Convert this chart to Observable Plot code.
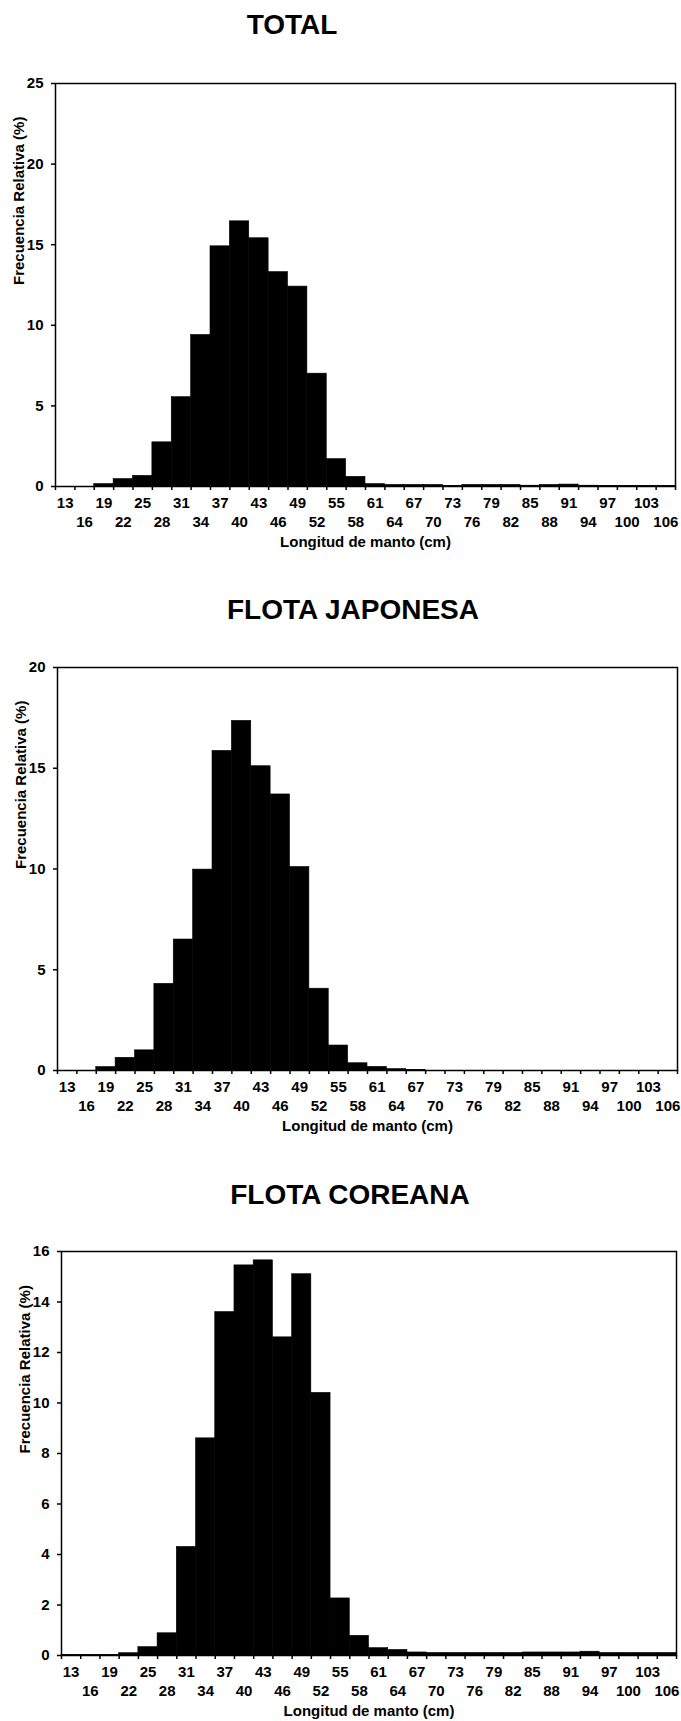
<!DOCTYPE html>
<html><head><meta charset="utf-8">
<script src="https://cdn.jsdelivr.net/npm/d3@7"></script>
<script src="https://cdn.jsdelivr.net/npm/@observablehq/plot@0.6"></script>
<style>
body{margin:0;background:#fff;}
#root{position:relative;width:681px;height:1721px;overflow:hidden;font-family:"Liberation Sans",Arial,sans-serif;background:#fff;}
.title{position:absolute;font-size:28px;font-weight:bold;line-height:28px;white-space:nowrap;transform:translateX(-50%);color:#000;}
.chart{position:absolute;left:0;}
</style></head><body><div id="root"></div>
<script>
// Length classes (cm), bin width 3
const lengths = [13,16,19,22,25,28,31,34,37,40,43,46,49,52,55,58,61,64,67,70,73,76,79,82,85,88,91,94,97,100,103,106];
const binWidth = 3;

// Relative frequency (%) per class
const totalPct    = [0,0,0.15,0.46,0.66,2.74,5.54,9.4,14.9,16.45,15.4,13.3,12.4,7.0,1.7,0.6,0.15,0.1,0.1,0.1,0.03,0.1,0.1,0.1,0.05,0.1,0.12,0.05,0.03,0.03,0.03,0.03];
const japonesaPct = [0,0,0.17,0.63,1.0,4.3,6.5,9.97,15.86,17.35,15.1,13.7,10.1,4.06,1.24,0.36,0.18,0.07,0.02,0,0,0,0,0,0,0,0,0,0,0,0,0];
const coreanaPct  = [0.02,0.02,0.02,0.09,0.33,0.88,4.3,8.6,13.6,15.45,15.65,12.6,15.1,10.4,2.26,0.78,0.29,0.22,0.12,0.1,0.1,0.1,0.1,0.1,0.12,0.12,0.12,0.15,0.1,0.1,0.1,0.1];

// Tick label rows
const row1Labels = lengths.filter((d, i) => i % 2 === 0);
const row2Labels = lengths.filter((d, i) => i % 2 === 1);

const yTicksTotal = [0,5,10,15,20,25];
const yTicksJaponesa = [0,5,10,15,20];
const yTicksCoreana = [0,2,4,6,8,10,12,14,16];

const titles = ["TOTAL", "FLOTA JAPONESA", "FLOTA COREANA"];
const xLabel = "Longitud de manto (cm)";
const yLabel = "Frecuencia Relativa (%)";

const FONT = "'Liberation Sans', Arial, sans-serif";

function chart({values, yMax, yTicks, height, ml, mr, mt, mb}) {
  const data = lengths.map((len, i) => ({len, pct: values[i]}));
  const bounds = lengths.map(l => l - binWidth / 2).concat([lengths[lengths.length - 1] + binWidth / 2]);
  const txt = {fontSize: 15, fontWeight: "bold", fill: "black"};
  return Plot.plot({
    width: 681, height,
    marginLeft: ml, marginRight: mr, marginTop: mt, marginBottom: mb,
    x: {type: "linear", domain: [bounds[0], bounds[bounds.length - 1]]},
    y: {domain: [0, yMax]},
    style: {fontFamily: FONT, background: "white", color: "black", overflow: "visible"},
    marks: [
      Plot.rectY(data.filter(d => d.pct > 0), {x1: d => d.len - binWidth / 2, x2: d => d.len + binWidth / 2, y1: 0, y2: "pct", fill: "black", stroke: "black", strokeWidth: 0.6}),
      Plot.frame({stroke: "black", strokeWidth: 1.5}),
      Plot.axisX({ticks: bounds, tickSize: 4, tickFormat: () => "", label: null, strokeWidth: 1.5, anchor: "bottom"}),
      Plot.axisY({ticks: yTicks, tickSize: 4, tickFormat: () => "", label: null, strokeWidth: 1.5, anchor: "left"}),
      Plot.text(row1Labels, {x: d => d, text: d => String(d), frameAnchor: "bottom", dy: 17, lineAnchor: "middle", ...txt}),
      Plot.text(row2Labels, {x: d => d, text: d => String(d), frameAnchor: "bottom", dy: 36, lineAnchor: "middle", ...txt}),
      Plot.text(yTicks, {y: d => d, text: d => String(d), frameAnchor: "left", dx: -12, textAnchor: "end", lineAnchor: "middle", ...txt}),
      Plot.text([xLabel], {text: d => d, frameAnchor: "bottom", dy: 56, lineAnchor: "middle", ...txt}),
      Plot.text([yLabel], {text: d => d, frameAnchor: "left", dx: -36, rotate: -90, lineAnchor: "middle", ...txt})
    ]
  });
}

const root = document.getElementById("root");
function addTitle(text, cx, baseline) {
  const d = document.createElement("div");
  d.className = "title";
  d.textContent = text;
  d.style.left = cx + "px";
  d.style.top = (baseline - 0.8465 * 28) + "px";
  root.appendChild(d);
}
function addChart(svg, top) {
  const w = document.createElement("div");
  w.className = "chart";
  w.style.top = top + "px";
  w.appendChild(svg);
  root.appendChild(w);
}

addTitle(titles[0], 292, 35);
addChart(chart({values: totalPct, yMax: 25, yTicks: yTicksTotal, height: 500, ml: 55, mr: 6, mt: 23, mb: 74}), 60);

addTitle(titles[1], 353, 620);
addChart(chart({values: japonesaPct, yMax: 20, yTicks: yTicksJaponesa, height: 500, ml: 57, mr: 4, mt: 27, mb: 70}), 640);

addTitle(titles[2], 350, 1205);
addChart(chart({values: coreanaPct, yMax: 16, yTicks: yTicksCoreana, height: 496, ml: 61, mr: 5, mt: 26, mb: 66}), 1225);
</script></body></html>
